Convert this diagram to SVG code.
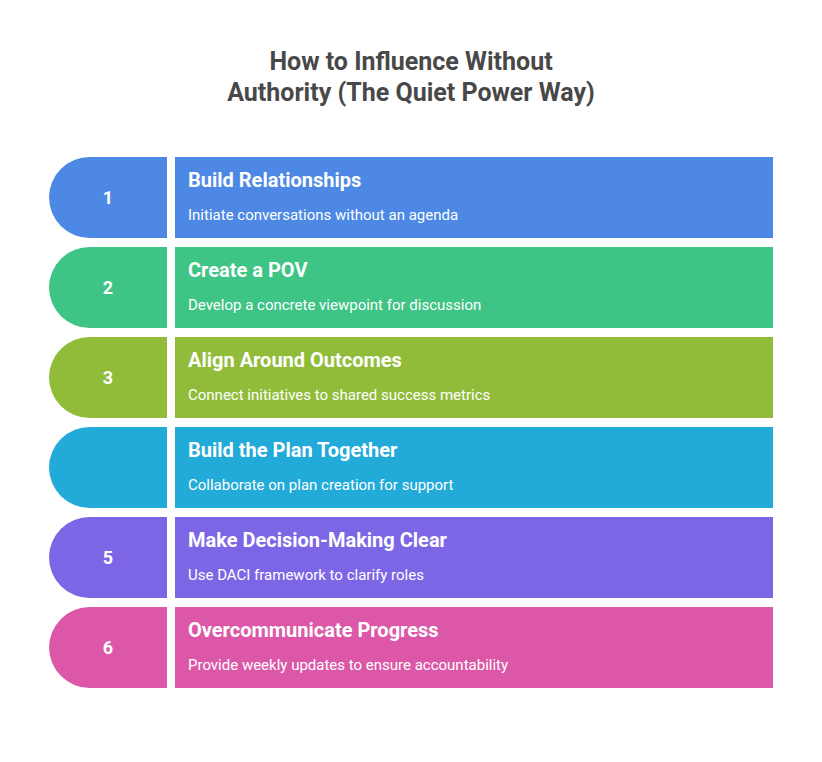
<svg xmlns="http://www.w3.org/2000/svg" width="822" height="762" viewBox="0 0 822 762">
<style>
.title{font-family:Roboto,"Liberation Sans",sans-serif;font-weight:700;font-size:25px;fill:#484848;text-anchor:middle}
.num{font-family:Roboto,"Liberation Sans",sans-serif;font-weight:700;font-size:18px;fill:#fff;text-anchor:middle}
.head{font-family:Roboto,"Liberation Sans",sans-serif;font-weight:700;font-size:20px;fill:#fff}
.desc{font-family:Roboto,"Liberation Sans",sans-serif;font-size:15px;fill:#fff}
</style>
<rect width="822" height="762" fill="#fff"/>
<g id="title">
<text class="title" x="411" y="70">How to Influence Without</text>
<text class="title" x="411" y="101">Authority (The Quiet Power Way)</text>
</g>
<g id="step1">
<path d="M167 157 V238 H90 A41 40.5 0 0 1 90 157 Z" fill="#4C88E4"/>
<rect x="175" y="157" width="598" height="81" fill="#4C88E4"/>
<text class="num" x="108" y="204">1</text>
<text class="head" x="188" y="187">Build Relationships</text>
<text class="desc" x="188" y="220">Initiate conversations without an agenda</text>
</g>
<g id="step2">
<path d="M167 247 V328 H90 A41 40.5 0 0 1 90 247 Z" fill="#3EC484"/>
<rect x="175" y="247" width="598" height="81" fill="#3EC484"/>
<text class="num" x="108" y="294">2</text>
<text class="head" x="188" y="277">Create a POV</text>
<text class="desc" x="188" y="310">Develop a concrete viewpoint for discussion</text>
</g>
<g id="step3">
<path d="M167 337 V418 H90 A41 40.5 0 0 1 90 337 Z" fill="#90BC3A"/>
<rect x="175" y="337" width="598" height="81" fill="#90BC3A"/>
<text class="num" x="108" y="384">3</text>
<text class="head" x="188" y="367">Align Around Outcomes</text>
<text class="desc" x="188" y="400">Connect initiatives to shared success metrics</text>
</g>
<g id="step4">
<path d="M167 427 V508 H90 A41 40.5 0 0 1 90 427 Z" fill="#22AAD8"/>
<rect x="175" y="427" width="598" height="81" fill="#22AAD8"/>
<text class="head" x="188" y="457">Build the Plan Together</text>
<text class="desc" x="188" y="490">Collaborate on plan creation for support</text>
</g>
<g id="step5">
<path d="M167 517 V598 H90 A41 40.5 0 0 1 90 517 Z" fill="#7D66E6"/>
<rect x="175" y="517" width="598" height="81" fill="#7D66E6"/>
<text class="num" x="108" y="564">5</text>
<text class="head" x="188" y="547">Make Decision-Making Clear</text>
<text class="desc" x="188" y="580">Use DACI framework to clarify roles</text>
</g>
<g id="step6">
<path d="M167 607 V688 H90 A41 40.5 0 0 1 90 607 Z" fill="#DC57A8"/>
<rect x="175" y="607" width="598" height="81" fill="#DC57A8"/>
<text class="num" x="108" y="654">6</text>
<text class="head" x="188" y="637">Overcommunicate Progress</text>
<text class="desc" x="188" y="670">Provide weekly updates to ensure accountability</text>
</g>
<g id="connectors"></g>
</svg>
